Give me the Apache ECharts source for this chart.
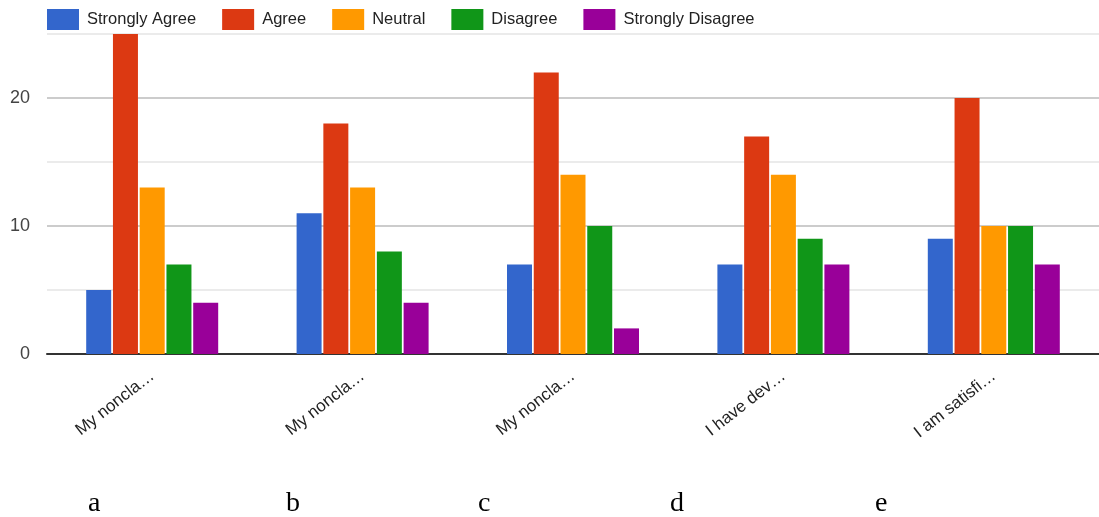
<!DOCTYPE html>
<html>
<head>
<meta charset="utf-8">
<script src="https://cdn.jsdelivr.net/npm/echarts@6/dist/echarts.min.js"></script>
<style>
html,body{margin:0;padding:0;background:#fff;}
#chart{width:1099px;height:517px;}
</style>
</head>
<body>
<div id="chart"></div>
<script>
const categories = ['My noncla…', 'My noncla…', 'My noncla…', 'I have dev…', 'I am satisfi…'];
const seriesNames = ['Strongly Agree', 'Agree', 'Neutral', 'Disagree', 'Strongly Disagree'];
const stronglyAgree = [5, 11, 7, 7, 9];
const agree = [25, 18, 22, 17, 20];
const neutral = [13, 13, 14, 14, 10];
const disagree = [7, 8, 10, 9, 10];
const stronglyDisagree = [4, 4, 2, 7, 7];
const yTicks = [0, 10, 20];
const panelLetters = ['a', 'b', 'c', 'd', 'e'];

const colors = ['#3366cc', '#dc3912', '#ff9900', '#109618', '#990099'];
const values = [stronglyAgree, agree, neutral, disagree, stronglyDisagree];
const letterX = [95, 293, 485, 677, 882];

const chart = echarts.init(document.getElementById('chart'), null, {renderer: 'canvas'});
chart.setOption({
  animation: false,
  color: colors,
  legend: {
    left: 42, top: 4,
    itemWidth: 32, itemHeight: 21, itemGap: 26,
    icon: 'rect',
    textStyle: {fontFamily: 'Liberation Sans, Arial', fontSize: 16.5, color: '#222', padding: [0, 0, 0, 3]},
    data: seriesNames
  },
  grid: {left: 47, top: 34, width: 1060, bottom: 163, containLabel: false},
  xAxis: {
    type: 'category',
    data: categories,
    axisTick: {show: false},
    axisLine: {lineStyle: {color: '#333', width: 2}},
    axisLabel: {rotate: 38, margin: 20, fontFamily: 'Liberation Sans, Arial', fontSize: 17, color: '#222', interval: 0}
  },
  yAxis: {
    type: 'value', min: 0, max: 25, interval: 5,
    axisLine: {show: false}, axisTick: {show: false},
    axisLabel: {
      margin: 17, fontFamily: 'Liberation Sans, Arial', fontSize: 18, color: '#444',
      formatter: v => yTicks.includes(v) ? String(v) : ''
    },
    splitLine: {lineStyle: {color: ['#cccccc', '#ebebeb'], width: 2}}
  },
  series: seriesNames.map((n, i) => ({
    name: n, type: 'bar', data: values[i],
    barWidth: 25, barGap: '7%',
    itemStyle: {color: colors[i]}
  })),
  graphic: panelLetters.map((t, i) => ({
    type: 'text', left: letterX[i] - 7, top: 490,
    style: {text: t, font: '28px "Liberation Serif", "Times New Roman", serif', fill: '#000'}
  }))
});
</script>
</body>
</html>
